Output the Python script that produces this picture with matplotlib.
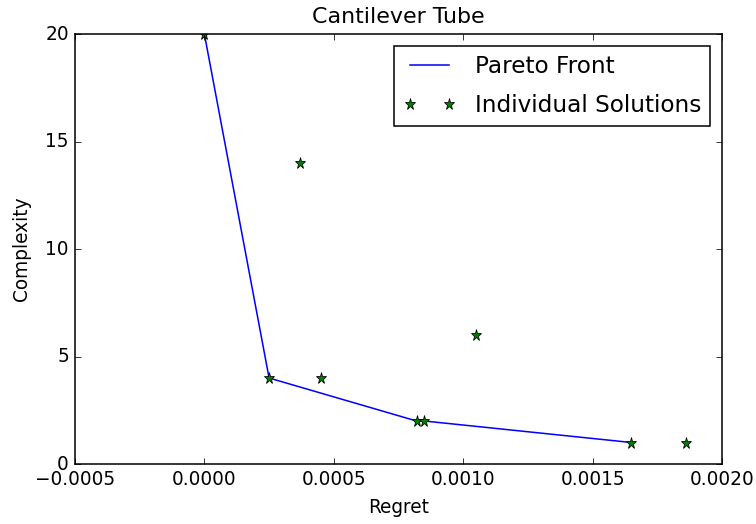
import matplotlib
matplotlib.use("Agg")
import matplotlib.pyplot as plt

plt.style.use('classic')

# all solutions found
regret = [0.0, 0.00025, 0.00037, 0.00045, 0.00082, 0.00085, 0.00105, 0.00165, 0.00186]
complexity = [20, 4, 14, 4, 2, 2, 6, 1, 1]

# non-dominated subset
front_regret = [0.0, 0.00025, 0.00082, 0.00085, 0.00165]
front_complexity = [20, 4, 2, 2, 1]

fig = plt.figure(figsize=(756 / 111, 524 / 111), dpi=111)
fig.patch.set_facecolor('white')
ax = fig.add_axes([0.0992, 0.1145, 0.8558, 0.8205])

ax.plot(front_regret, front_complexity, 'b-', label='Pareto Front')
ax.plot(regret, complexity, 'g*', markersize=7.5, label='Individual Solutions')

ax.set_xlim(-0.0005, 0.0020)
ax.set_ylim(0, 20)
ax.set_title('Cantilever Tube', fontsize=14.4, pad=7)
ax.set_xlabel('Regret', labelpad=6)
ax.set_ylabel('Complexity', labelpad=9)
ax.legend(loc='upper right', fontsize=15, labelspacing=0.7, handlelength=2.3)

fig.savefig('out.png', dpi=111, facecolor='white')
